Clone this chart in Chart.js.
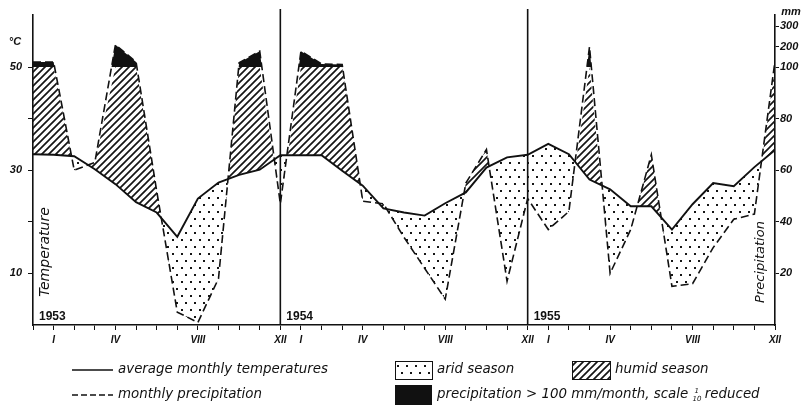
<!DOCTYPE html>
<html lang="en">
<head>
<meta charset="UTF-8" />
<title>Climate diagram 1953-1955</title>
<script src="https://cdn.jsdelivr.net/npm/chart.js"></script>
<style>
    html, body { margin: 0; padding: 0; background: #fff; }
    #wrap { width: 807px; height: 405px; }
</style>
</head>
<body>
<div id="wrap"><canvas id="climate" width="807" height="405"></canvas></div>
<script>
    // month index -1 = XII 1952, 0 = I 1953 ... 35 = XII 1955
    const years = ['1953', '1954', '1955'];
    const monthNames = ['I', 'II', 'III', 'IV', 'V', 'VI', 'VII', 'VIII', 'IX', 'X', 'XI', 'XII'];
    const labelledMonths = ['I', 'IV', 'VIII', 'XII'];

    // average monthly temperature, °C
    const temperature = [
        33.1,
        33.0, 32.7, 30.2, 27.3, 23.8, 21.8, 17.1, 24.5, 27.6, 29.1, 30.1, 32.9,
        32.9, 32.9, 29.9, 27.0, 22.6, 21.8, 21.2, 23.6, 25.7, 30.5, 32.5, 33.0,
        35.1, 33.1, 28.2, 26.3, 23.0, 23.0, 18.5, 23.4, 27.5, 26.9, 30.6, 33.9
    ];
    // monthly precipitation, mm
    const precipitation = [
        125,
        125, 60, 63, 210, 125, 52, 5, 1, 18, 121, 178, 47,
        178, 115, 112, 48, 47, 34, 22, 10, 55, 68, 17, 49,
        37, 44, 200, 20, 37, 66, 15, 16, 30, 41, 43, 130
    ];

    const tempTicks = [10, 20, 30, 40, 50];
    const tempTickLabels = ['10', '', '30', '', '50'];
    const precipTicks = [20, 40, 60, 80, 100, 200, 300];

    // 20 mm = 10 °C, above 100 mm the scale is reduced
    function precipToScale(mm) {
        return mm <= 100 ? mm / 2 : 50 + (mm - 100) * 0.0393;
    }

    function makeHatch() {
        const c = document.createElement('canvas');
        c.width = 7; c.height = 7;
        const g = c.getContext('2d');
        g.strokeStyle = '#151515';
        g.lineWidth = 1.7;
        g.beginPath();
        g.moveTo(-1, 8); g.lineTo(8, -1);
        g.moveTo(-1, 1); g.lineTo(1, -1);
        g.moveTo(6, 8); g.lineTo(8, 6);
        g.stroke();
        return g.createPattern(c, 'repeat');
    }

    function makeDots() {
        const c = document.createElement('canvas');
        c.width = 9; c.height = 14;
        const g = c.getContext('2d');
        g.fillStyle = '#151515';
        g.fillRect(1, 1, 2, 2);
        g.fillRect(5, 8, 2, 2);
        return g.createPattern(c, 'repeat');
    }

    const hatch = makeHatch();
    const dots = makeDots();

    const tempPoints = temperature.map((t, i) => ({ x: i - 1, y: t }));
    const precipPoints = precipitation.map((p, i) => ({ x: i - 1, y: precipToScale(p) }));
    const precipCapped = precipitation.map((p, i) => ({ x: i - 1, y: Math.min(precipToScale(p), 50) }));

    // plot is 310 px tall: keep the 50 °C / 100 mm level on a whole pixel row
    const yMax = 310 * 50 / 258;

    const tickFont = { family: '"Liberation Sans", Arial, sans-serif', style: 'italic', weight: 'bold', size: 11 };

    const decorations = {
        id: 'decorations',
        afterDatasetsDraw(chart) {
            const { ctx, chartArea: a, scales: { x } } = chart;
            ctx.save();
            ctx.strokeStyle = '#111';
            ctx.lineWidth = 1.6;
            [11, 23].forEach(i => {
                const px = x.getPixelForValue(i);
                ctx.beginPath();
                ctx.moveTo(px, a.top - 6);
                ctx.lineTo(px, a.bottom);
                ctx.stroke();
            });

            ctx.fillStyle = '#111';
            ctx.font = 'bold 12px "Liberation Sans", Arial, sans-serif';
            ctx.textBaseline = 'alphabetic';
            years.forEach((y, k) => {
                ctx.fillText(y, x.getPixelForValue(k * 12 - 1) + 6, a.bottom - 5);
            });

            ctx.font = 'italic 14px "DejaVu Sans", sans-serif';
            ctx.textAlign = 'center';
            ctx.textBaseline = 'middle';
            ctx.save();
            ctx.translate(a.left + 12, a.bottom - 73);
            ctx.rotate(-Math.PI / 2);
            ctx.fillText('Temperature', 0, 0);
            ctx.restore();
            ctx.save();
            ctx.font = 'italic 13px "DejaVu Sans", sans-serif';
            ctx.translate(a.right - 14, a.bottom - 63);
            ctx.rotate(-Math.PI / 2);
            ctx.fillText('Precipitation', 0, 0);
            ctx.restore();

            ctx.font = 'italic bold 11px "Liberation Sans", Arial, sans-serif';
            ctx.fillText('°C', 15, 42);
            ctx.fillText('mm', 791, 12);
            ctx.restore();
        },
        afterDraw(chart) {
            const ctx = chart.ctx;
            const r1 = 370, r2 = 395;
            ctx.save();
            ctx.strokeStyle = '#111';
            ctx.fillStyle = '#111';

            ctx.lineWidth = 1.6;
            ctx.beginPath(); ctx.moveTo(72, r1); ctx.lineTo(113, r1); ctx.stroke();
            ctx.setLineDash([6, 3]);
            ctx.lineWidth = 1.4;
            ctx.beginPath(); ctx.moveTo(72, r2); ctx.lineTo(113, r2); ctx.stroke();
            ctx.setLineDash([]);

            ctx.lineWidth = 1;
            ctx.fillStyle = dots;
            ctx.fillRect(395, r1 - 9, 37, 18);
            ctx.strokeRect(395.5, r1 - 8.5, 37, 18);
            ctx.fillStyle = hatch;
            ctx.fillRect(572, r1 - 9, 38, 18);
            ctx.strokeRect(572.5, r1 - 8.5, 38, 18);
            ctx.fillStyle = '#111';
            ctx.fillRect(395, r2 - 10, 37, 20);

            ctx.font = 'italic 13.4px "DejaVu Sans", sans-serif';
            ctx.textBaseline = 'middle';
            ctx.fillText('average monthly temperatures', 118, r1);
            ctx.fillText('arid season', 437, r1);
            ctx.fillText('humid season', 615, r1);
            ctx.fillText('monthly precipitation', 118, r2);
            const lead = 'precipitation > 100 mm/month, scale ';
            ctx.fillText(lead, 437, r2);
            const fx = 437 + ctx.measureText(lead).width;
            ctx.font = 'italic 7px "DejaVu Sans", sans-serif';
            ctx.fillText('1', fx + 2, r2 - 4);
            ctx.fillText('10', fx, r2 + 4);
            ctx.font = 'italic 13.4px "DejaVu Sans", sans-serif';
            ctx.fillText(' reduced', fx + 8, r2);
            ctx.restore();
        }
    };

    new Chart(document.getElementById('climate'), {
        type: 'line',
        data: {
            datasets: [
                {
                    label: 'average monthly temperatures',
                    data: tempPoints,
                    borderColor: '#111',
                    borderWidth: 1.9,
                    pointRadius: 0,
                    fill: false,
                    tension: 0
                },
                {
                    label: 'monthly precipitation',
                    data: precipPoints,
                    borderColor: '#111',
                    borderWidth: 1.6,
                    borderDash: [8, 4],
                    pointRadius: 0,
                    tension: 0,
                    fill: { target: { value: 50 }, above: '#111', below: 'rgba(0,0,0,0)' }
                },
                {
                    label: 'season',
                    data: precipCapped,
                    borderWidth: 0,
                    borderColor: 'rgba(0,0,0,0)',
                    pointRadius: 0,
                    tension: 0,
                    fill: { target: 0, above: hatch, below: dots }
                }
            ]
        },
        options: {
            responsive: false,
            animation: false,
            layout: { padding: { top: 15, left: 0, right: 0, bottom: 0 } },
            plugins: {
                legend: { display: false },
                tooltip: { enabled: false }
            },
            scales: {
                x: {
                    type: 'linear',
                    min: -1,
                    max: 35,
                    afterFit(s) { s.height = 80; },
                    ticks: {
                        stepSize: 1,
                        autoSkip: false,
                        maxRotation: 0,
                        padding: 4,
                        color: '#111',
                        font: { ...tickFont, size: 10 },
                        callback: v => {
                            if (v < 0) return '';
                            const name = monthNames[v % 12];
                            return labelledMonths.includes(name) ? name : '';
                        }
                    },
                    grid: { drawOnChartArea: false, tickLength: 5, color: '#111' },
                    border: { color: '#111', width: 1.6 }
                },
                y: {
                    position: 'left',
                    min: 0,
                    max: yMax,
                    afterFit(s) { s.width = 33; },
                    afterBuildTicks(s) { s.ticks = tempTicks.map(v => ({ value: v })); },
                    ticks: {
                        padding: 6,
                        color: '#111',
                        font: tickFont,
                        callback: v => tempTickLabels[tempTicks.indexOf(v)]
                    },
                    grid: { drawOnChartArea: false, tickLength: 5, color: '#111' },
                    border: { color: '#111', width: 1.6 }
                },
                y2: {
                    position: 'right',
                    min: 0,
                    max: yMax,
                    afterFit(s) { s.width = 32; },
                    afterBuildTicks(s) { s.ticks = precipTicks.map(p => ({ value: precipToScale(p) })); },
                    ticks: {
                        padding: 1,
                        color: '#111',
                        font: tickFont,
                        callback: v => {
                            const k = precipTicks.findIndex(p => Math.abs(precipToScale(p) - v) < 1e-6);
                            return k < 0 ? '' : String(precipTicks[k]);
                        }
                    },
                    grid: { drawOnChartArea: false, tickLength: 4, color: '#111' },
                    border: { color: '#111', width: 1.6 }
                }
            }
        },
        plugins: [decorations]
    });
</script>
</body>
</html>
